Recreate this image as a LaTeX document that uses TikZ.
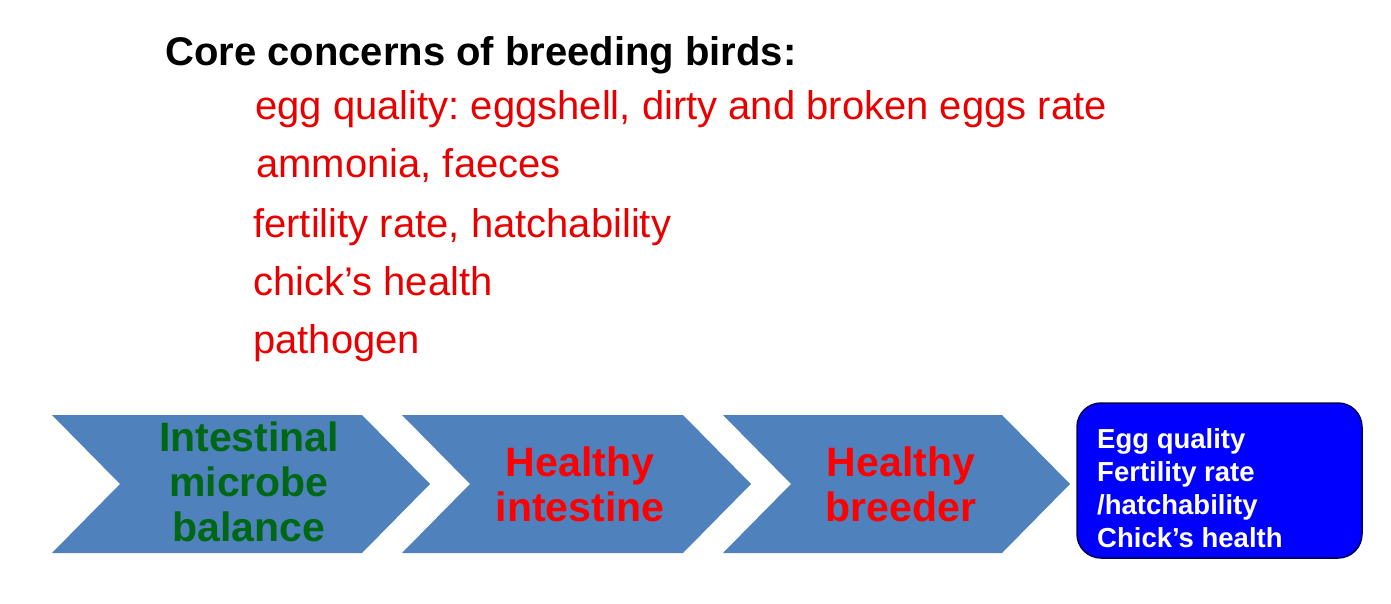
\documentclass[tikz,border=0pt]{standalone}
\usepackage{fontspec}
\setmainfont{Liberation Sans}
\usetikzlibrary{positioning}
\frenchspacing

\definecolor{chevblue}{RGB}{79,129,189}
\definecolor{microgreen}{RGB}{0,104,20}
\definecolor{concernred}{RGB}{232,0,0}
\definecolor{boxblue}{RGB}{0,0,255}
\definecolor{boxline}{RGB}{0,0,90}

\begin{document}
\begin{tikzpicture}[
    % one pixel of the slide is one point
    x=1pt, y=-1pt,
    % Style for the heading
    heading/.style={
        anchor=base west,
        inner sep=0pt,
        font=\fontsize{40}{48}\selectfont\bfseries
    },
    % Style for the red list of concerns
    concern/.style={
        anchor=base west,
        inner sep=0pt,
        text=concernred,
        font=\fontsize{40}{48}\selectfont
    },
    % Style for the chevrons of the chain
    chevron/.style={
        fill=chevblue
    },
    % Style for the text inside the chevrons
    chevtext/.style={
        inner sep=0pt,
        align=center,
        font=\fontsize{41}{45}\selectfont\bfseries
    },
    % Style for the result box at the end
    result/.style={
        rectangle,
        rounded corners=24pt,
        draw=boxline,
        line width=1.5pt,
        fill=boxblue
    },
    resulttext/.style={
        anchor=west,
        inner sep=0pt,
        align=left,
        text=white,
        font=\fontsize{27.5}{33}\selectfont\bfseries
    }
]
\useasboundingbox (0,0) rectangle (1391,604);

% 1. Heading and the list of concerns
\node[heading] (title) at (165,66) {Core concerns of breeding birds:};
\node[concern] (eggs) at (255,120) {egg quality: eggshell, dirty and broken eggs rate};
\node[concern] (ammonia) at (256,178) {ammonia, faeces};
\node[concern] (fertility) at (253,237) {fertility rate, hatchability};
\node[concern] (chicks) at (253,295) {chick’s health};
\node[concern] (pathogen) at (253,353) {pathogen};

% 2. The three chevrons of the chain
\foreach \xl/\xr in {52/362, 402/683, 723/1002}
    \fill[chevron] (\xl,415) -- (\xr,415) -- (\xr+68,484) -- (\xr,553)
        -- (\xl,553) -- (\xl+68,484) -- cycle;

\node[chevtext, text=microgreen] (microbe) at (249,482) {Intestinal\\microbe\\balance};
\node[chevtext, text=red] (intestine) at (580,484) {Healthy\\intestine};
\node[chevtext, text=red] (breeder) at (901,484) {Healthy\\breeder};

% 3. The result box
\draw[result] (1077,403) rectangle (1362,558);
\node[resulttext] (outcome) at (1097,488) {Egg quality\\Fertility rate\\/hatchability\\Chick’s health};

\end{tikzpicture}
\end{document}
